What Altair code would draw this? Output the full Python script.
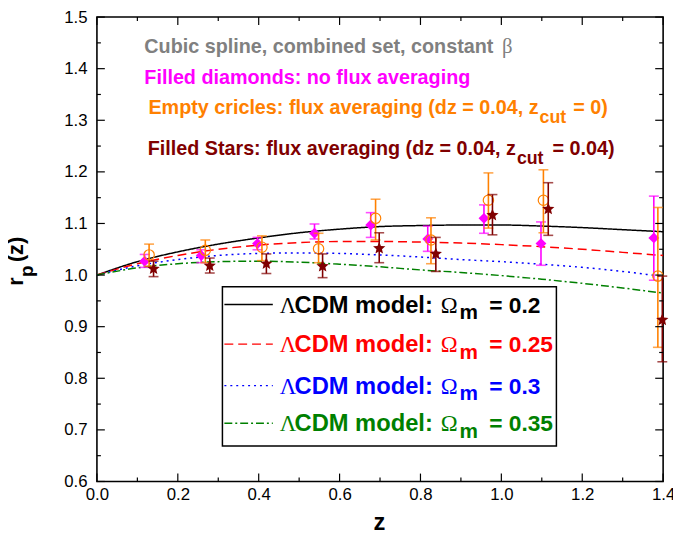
import altair as alt
import pandas as pd

# ---------------- data ----------------
z_model = [0.0, 0.1, 0.2, 0.3, 0.4, 0.5, 0.6, 0.7, 0.8, 0.9, 1.0, 1.1, 1.2, 1.3, 1.4]
r_om020 = [1.000, 1.026, 1.045, 1.060, 1.072, 1.082, 1.089, 1.094, 1.096, 1.097, 1.097, 1.095, 1.092, 1.088, 1.084]
r_om025 = [1.000, 1.022, 1.038, 1.050, 1.058, 1.063, 1.065, 1.065, 1.064, 1.062, 1.059, 1.055, 1.050, 1.044, 1.038]
r_om030 = [1.000, 1.018, 1.030, 1.038, 1.042, 1.043, 1.042, 1.039, 1.035, 1.030, 1.026, 1.021, 1.015, 1.007, 0.997]
r_om035 = [1.000, 1.014, 1.022, 1.026, 1.027, 1.025, 1.021, 1.016, 1.010, 1.005, 0.999, 0.992, 0.984, 0.975, 0.965]

z_diam = [0.118, 0.258, 0.397, 0.538, 0.677, 0.818, 0.957, 1.098, 1.377]
r_diam = [1.027, 1.038, 1.061, 1.081, 1.097, 1.070, 1.110, 1.061, 1.072]
lo_diam = [1.015, 1.024, 1.049, 1.070, 1.073, 1.046, 1.081, 1.019, 0.990]
hi_diam = [1.040, 1.049, 1.073, 1.099, 1.121, 1.095, 1.136, 1.103, 1.153]

z_circ = [0.129, 0.268, 0.408, 0.548, 0.689, 0.826, 0.968, 1.104, 1.387]
r_circ = [1.039, 1.048, 1.054, 1.051, 1.110, 1.068, 1.145, 1.145, 0.998]
lo_circ = [1.017, 1.024, 1.028, 1.024, 1.068, 1.022, 1.091, 1.082, 0.860]
hi_circ = [1.060, 1.068, 1.076, 1.081, 1.147, 1.111, 1.198, 1.204, 1.131]

z_star = [0.140, 0.279, 0.419, 0.558, 0.698, 0.838, 0.978, 1.116, 1.398]
r_star = [1.012, 1.018, 1.022, 1.017, 1.052, 1.041, 1.116, 1.128, 0.913]
lo_star = [0.997, 1.004, 1.003, 0.995, 1.024, 1.007, 1.078, 1.077, 0.832]
hi_star = [1.027, 1.033, 1.041, 1.041, 1.082, 1.073, 1.156, 1.179, 0.998]

x_ticks_major = [0.0, 0.2, 0.4, 0.6, 0.8, 1.0, 1.2, 1.4]
x_ticks_minor = [0.1, 0.3, 0.5, 0.7, 0.9, 1.1, 1.3]
y_ticks_major = [0.6, 0.7, 0.8, 0.9, 1.0, 1.1, 1.2, 1.3, 1.4, 1.5]
y_ticks_minor = [0.65, 0.75, 0.85, 0.95, 1.05, 1.15, 1.25, 1.35, 1.45]

omega_values = ["0.2", "0.25", "0.3", "0.35"]
legend_lambda = "\u039b"
legend_model = "CDM model:"
legend_omega = "\u03a9"
legend_sub = "m"

notes = [
    "Cubic spline, combined set, constant ",
    "Filled diamonds: no flux averaging",
    "Empty cricles: flux averaging (dz = 0.04, z",
    "Filled Stars: flux averaging (dz = 0.04, z",
]
note_beta = "\u03b2"
note_sub = "cut"
note_tails = ["= 0)", "= 0.04)"]

# ---------------- styles ----------------
W, H = 573, 470
FONT = "Liberation Sans"
SERIF = "Liberation Serif"
c_black, c_red, c_blue, c_green = "#000000", "#FF0000", "#0000FF", "#008000"
c_mag, c_orange, c_dred, c_gray = "#FF00FF", "#FF8000", "#800000", "#808080"
STAR = ("M0,-1L0.265,-0.364L0.951,-0.309L0.428,0.139L0.588,0.809L0,0.45"
        "L-0.588,0.809L-0.428,0.139L-0.951,-0.309L-0.265,-0.364Z")

XS = alt.Scale(domain=[0, 1.4], nice=False, zero=False)
YS = alt.Scale(domain=[0.6, 1.5], nice=False, zero=False)
xaxis = alt.Axis(orient="bottom", values=x_ticks_major, format=".1f", ticks=False, domain=False,
                 grid=False, title=None, labelFontSize=17, labelFont=FONT, labelColor="black",
                 labelPadding=5, labelFlush=False, labelOverlap=False)
yaxis = alt.Axis(orient="left", values=y_ticks_major, format=".1f", ticks=False, domain=False,
                 grid=False, title=None, labelFontSize=17, labelFont=FONT, labelColor="black",
                 labelPadding=10, labelFlush=False, labelOverlap=False)


def X(field):
    return alt.X(field, type="quantitative", scale=XS, axis=xaxis)


def Y(field):
    return alt.Y(field, type="quantitative", scale=YS, axis=yaxis)


layers = []

# model curves
curve_specs = [
    (r_om020, c_black, [1, 0]),
    (r_om025, c_red, [9, 5]),
    (r_om030, c_blue, [2, 4]),
    (r_om035, c_green, [8, 3, 2, 3]),
]
for vals, col, dash in curve_specs:
    df = pd.DataFrame({"z": z_model, "r": vals})
    layers.append(
        alt.Chart(df).mark_line(color=col, strokeWidth=1.5, strokeDash=dash, interpolate="monotone")
        .encode(x=X("z"), y=Y("r"))
    )

# data points with error bars
point_specs = [
    (z_diam, r_diam, lo_diam, hi_diam, c_mag, "diamond", True, 120),
    (z_circ, r_circ, lo_circ, hi_circ, c_orange, "circle", False, 110),
    (z_star, r_star, lo_star, hi_star, c_dred, STAR, True, 170),
]
for zz, rr, lo, hi, col, shape, filled, size in point_specs:
    df = pd.DataFrame({"z": zz, "r": rr, "lo": lo, "hi": hi})
    base = alt.Chart(df)
    layers.append(base.mark_rule(color=col, strokeWidth=1.6).encode(x=X("z"), y=Y("lo"), y2="hi:Q"))
    layers.append(base.mark_tick(color=col, orient="horizontal", size=10, thickness=1.6)
                  .encode(x=X("z"), y=Y("lo")))
    layers.append(base.mark_tick(color=col, orient="horizontal", size=10, thickness=1.6)
                  .encode(x=X("z"), y=Y("hi")))
    if filled:
        layers.append(base.mark_point(shape=shape, filled=True, color=col, size=size, opacity=1)
                      .encode(x=X("z"), y=Y("r")))
    else:
        layers.append(base.mark_point(shape=shape, filled=False, color=col, size=size,
                                      strokeWidth=1.2, opacity=1)
                      .encode(x=X("z"), y=Y("r")))

# inward ticks on all four sides
for vals, ln in [(x_ticks_major, 8), (x_ticks_minor, 4)]:
    df = pd.DataFrame({"v": vals})
    layers.append(alt.Chart(df).mark_rule(color="black", strokeWidth=1.2)
                  .encode(x=X("v"), y=alt.value(H), y2=alt.value(H - ln)))
    layers.append(alt.Chart(df).mark_rule(color="black", strokeWidth=1.2)
                  .encode(x=X("v"), y=alt.value(0), y2=alt.value(ln)))
for vals, ln in [(y_ticks_major, 8), (y_ticks_minor, 4)]:
    df = pd.DataFrame({"v": vals})
    layers.append(alt.Chart(df).mark_rule(color="black", strokeWidth=1.2)
                  .encode(y=Y("v"), x=alt.value(0), x2=alt.value(ln)))
    layers.append(alt.Chart(df).mark_rule(color="black", strokeWidth=1.2)
                  .encode(y=Y("v"), x=alt.value(W), x2=alt.value(W - ln)))


def txt(s, px, py, color="black", size=20, align="left", angle=0, weight="bold", font=FONT):
    df = pd.DataFrame({"t": [s]})
    kw = dict(align=align, baseline="alphabetic", font=font, fontSize=size,
              fontWeight=weight, color=color)
    if angle:
        kw["angle"] = angle
    return alt.Chart(df).mark_text(**kw).encode(x=alt.value(px), y=alt.value(py), text="t:N")


# notes at top
layers.append(txt(notes[0], 48, 36, c_gray, align="left"))
layers.append(txt(note_beta, 410, 36, c_gray, size=21, weight="normal", font=SERIF))
layers.append(txt(notes[1], 48, 68, c_mag))
layers.append(txt(notes[2], 447, 98, c_orange, align="right"))
layers.append(txt(note_sub, 448, 107, c_orange, size=18))
layers.append(txt(note_tails[0], 482, 98, c_orange))
layers.append(txt(notes[3], 424, 140, c_dred, align="right"))
layers.append(txt(note_sub, 425, 149, c_dred, size=18))
layers.append(txt(note_tails[1], 461, 140, c_dred))

# legend box
box = pd.DataFrame({"a": [0]})
layers.append(alt.Chart(box).mark_rect(fill="white", stroke="black", strokeWidth=1.5)
              .encode(x=alt.value(127), x2=alt.value(465), y=alt.value(273), y2=alt.value(434)))
row_base = [299, 339, 381, 419]
for (vals, col, dash), om, yb in zip(curve_specs, omega_values, row_base):
    layers.append(alt.Chart(box).mark_rule(color=col, strokeWidth=1.5, strokeDash=dash)
                  .encode(x=alt.value(129), x2=alt.value(178), y=alt.value(yb - 8)))
    layers.append(txt(legend_lambda, 185, yb, col, size=23, weight="normal", font=SERIF))
    layers.append(txt(legend_model, 200, yb, col, size=24))
    layers.append(txt(legend_omega, 348, yb, col, size=23, weight="normal", font=SERIF))
    layers.append(txt(legend_sub, 367, yb + 7, col, size=21))
    layers.append(txt("= " + om, 397, yb, col, size=23))

# axis titles
layers.append(txt("r", -75, 272, "black", size=22, angle=270))
layers.append(txt("p", -65, 263, "black", size=19, angle=270))
layers.append(txt("(z)", -75, 248, "black", size=22, angle=270))
layers.append(txt("z", 286, 519, "black", size=24, align="center"))

chart = alt.layer(*layers).properties(
    width=W, height=H,
    autosize=alt.AutoSizeParams(type="none"),
    padding={"left": 90, "top": 6, "right": 10, "bottom": 52},
).configure_view(stroke="black", strokeWidth=1.6)

chart.save("out.html", embed_options={"renderer": "svg", "actions": False})
